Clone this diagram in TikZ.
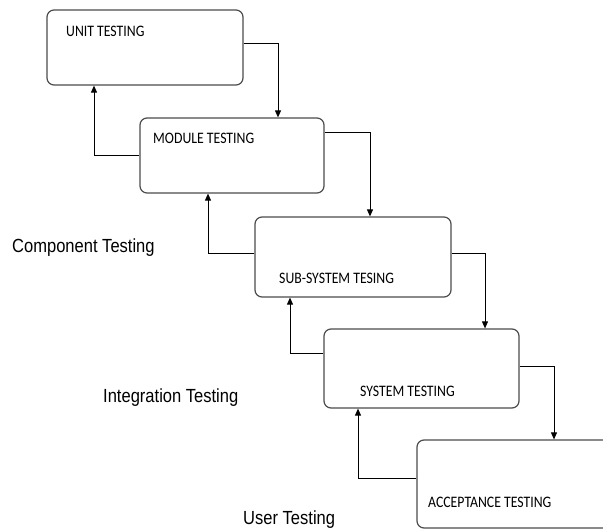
\documentclass[tikz,border=0pt]{standalone}
\usepackage{fontspec}
\setmainfont{Liberation Sans}
\newfontfamily\boxfont{Carlito}
\usetikzlibrary{arrows.meta}
\tikzset{
  stage/.style={draw=black!70, line width=1.2pt, rounded corners=7pt, inner sep=0pt},
  arr/.style={draw=black, line width=0.9pt, -{Triangle[length=7pt,width=6pt]}},
  btext/.style={anchor=west, inner sep=0pt, font=\boxfont\fontsize{16}{18}\selectfont},
  ltext/.style={anchor=west, inner sep=0pt, font=\fontsize{19}{22}\selectfont}
}
\newcommand{\sq}[2]{\scalebox{#1}[1]{#2}}
\begin{document}
\begin{tikzpicture}[x=1pt,y=-1pt]
\path[use as bounding box] (0,0) rectangle (603,532);
\clip (0,0) rectangle (603,532);
\node[stage, minimum width=196pt, minimum height=75pt] (unit) at (145,47.5) {};
\node[stage, minimum width=184pt, minimum height=75pt] (module) at (232,155.5) {};
\node[stage, minimum width=196pt, minimum height=80pt] (subsys) at (353,257) {};
\node[stage, minimum width=195pt, minimum height=79pt] (system) at (421.5,368.5) {};
\node[stage, minimum width=203pt, minimum height=88pt] (accept) at (518.5,484) {};

\node[btext] (tunit) at (66,31) {\sq{0.86}{UNIT TESTING}};
\node[btext] (tmodule) at (153,138) {\sq{0.86}{MODULE TESTING}};
\node[btext] (tsubsys) at (279,278) {\sq{0.86}{SUB-SYSTEM TESING}};
\node[btext] (tsystem) at (360,391) {\sq{0.86}{SYSTEM TESTING}};
\node[btext] (taccept) at (428,502) {\sq{0.86}{ACCEPTANCE TESTING}};

\node[ltext] (lcomp) at (12,248) {\sq{0.87}{Component Testing}};
\node[ltext] (linteg) at (103,398) {\sq{0.87}{Integration Testing}};
\node[ltext] (luser) at (243,520) {\sq{0.87}{User Testing}};

\draw[arr] (unit.east |- 0,43) -| (module.north -| 278,0);
\draw[arr] (module.east |- 0,132) -| (subsys.north -| 370,0);
\draw[arr] (subsys.east |- 0,253) -| (system.north -| 485,0);
\draw[arr] (system.east |- 0,366) -| (accept.north -| 554,0);

\draw[arr] (module.west |- 0,155) -| (unit.south -| 94,0);
\draw[arr] (subsys.west |- 0,253) -| (module.south -| 208,0);
\draw[arr] (system.west |- 0,353) -| (subsys.south -| 290,0);
\draw[arr] (accept.west |- 0,478) -| (system.south -| 358,0);
\end{tikzpicture}
\end{document}
